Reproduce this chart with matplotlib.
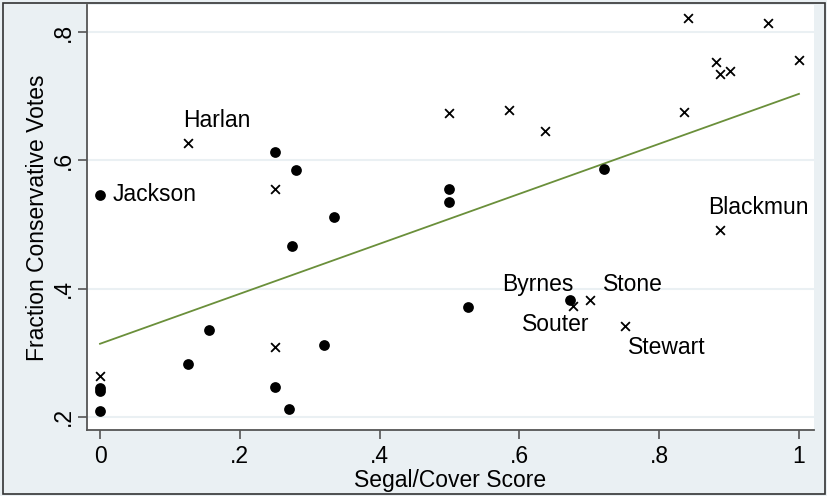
import numpy as np
import matplotlib
matplotlib.use("Agg")
import matplotlib.pyplot as plt
from matplotlib.patches import Rectangle

plt.rcParams['font.family'] = ['Liberation Sans', 'DejaVu Sans']

# Filled circles (one group of justices)
dot_x = [0.0, 0.0, 0.0, 0.0, 0.126, 0.1555, 0.25, 0.25, 0.271, 0.275, 0.280,
         0.320, 0.335, 0.50, 0.50, 0.527, 0.672, 0.7215]
dot_y = [0.546, 0.245, 0.240, 0.210, 0.2825, 0.3355, 0.613, 0.246, 0.212, 0.467,
         0.585, 0.312, 0.511, 0.555, 0.5345, 0.371, 0.382, 0.586]

# Crosses (other group)
cross_x = [0.0, 0.126, 0.25, 0.25, 0.50, 0.5856, 0.6366, 0.676, 0.7015, 0.7515,
           0.8355, 0.8417, 0.8808, 0.887, 0.901, 0.955, 1.0, 0.887]
cross_y = [0.264, 0.6275, 0.555, 0.3085, 0.673, 0.678, 0.646, 0.373, 0.382, 0.341,
           0.676, 0.821, 0.7537, 0.7345, 0.7397, 0.8145, 0.756, 0.491]

# Labelled justices: name, x, y, offset in points, alignment
labels = [
    ("Jackson", 0.0, 0.546, (9.4, 0), 'left'),
    ("Harlan", 0.126, 0.6275, (-3.8, 16.3), 'left'),
    ("Blackmun", 0.887, 0.491, (-8.6, 16.6), 'left'),
    ("Byrnes", 0.672, 0.382, (2.9, 11.5), 'right'),
    ("Stone", 0.7015, 0.382, (9.1, 11.5), 'left'),
    ("Souter", 0.676, 0.373, (12.5, -13.2), 'right'),
    ("Stewart", 0.7515, 0.341, (2.0, -15.3), 'left'),
]

x_ticks = [0, 0.2, 0.4, 0.6, 0.8, 1.0]
x_ticklabels = ["0", ".2", ".4", ".6", ".8", "1"]
y_ticks = [0.2, 0.4, 0.6, 0.8]
y_ticklabels = [".2", ".4", ".6", ".8"]

FS = 16.5
bg = '#EAF0F3'
fig = plt.figure(figsize=(8.27, 4.96), dpi=100, facecolor=bg)
ax = fig.add_axes([87/827, 1-430/496, (814-87)/827, (430-5)/496])
ax.set_facecolor('white')

all_x = np.array(dot_x + cross_x)
all_y = np.array(dot_y + cross_y)
slope, intercept = np.polyfit(all_x, all_y, 1)
lx = np.array([0.0, 1.0])
ax.plot(lx, intercept + slope*lx, color='#6a8f3a', lw=1.3, zorder=2)

ax.scatter(dot_x, dot_y, s=60, color='black', marker='o', zorder=3, linewidths=0)
ax.scatter(cross_x, cross_y, s=40, color='black', marker='x', zorder=3, linewidths=1.3)

for name, x, y, off, ha in labels:
    ax.annotate(name, (x, y), xytext=off, textcoords='offset points',
                ha=ha, va='center', fontsize=FS, color='black')

ax.set_xlim(-0.0186, 1.0215)
ax.set_ylim(0.1797, 0.842)
ax.set_xticks(x_ticks)
ax.set_xticklabels(x_ticklabels)
ax.set_yticks(y_ticks)
ax.set_yticklabels(y_ticklabels, rotation=90, va='center')
ax.tick_params(axis='both', direction='out', length=6.5, width=1.2, color='#555555',
               labelsize=FS)
ax.tick_params(axis='x', pad=4)
ax.tick_params(axis='y', pad=2)
ax.grid(axis='y', color='#EAF0F3', lw=1.5, zorder=0)
ax.set_axisbelow(True)
for s in ['top', 'right']:
    ax.spines[s].set_visible(False)
for s in ['left', 'bottom']:
    ax.spines[s].set_color('#555555')
    ax.spines[s].set_linewidth(1.3)

ax.set_xlabel("Segal/Cover Score", fontsize=FS, labelpad=1)
ax.set_ylabel("Fraction Conservative Votes", fontsize=FS, labelpad=2)

fig.patches.append(Rectangle((3/827, 2/496), 822/827, 491/496, transform=fig.transFigure,
                             fill=False, edgecolor='#333333', lw=1.2))

fig.savefig("out.png", dpi=100, facecolor=bg)
